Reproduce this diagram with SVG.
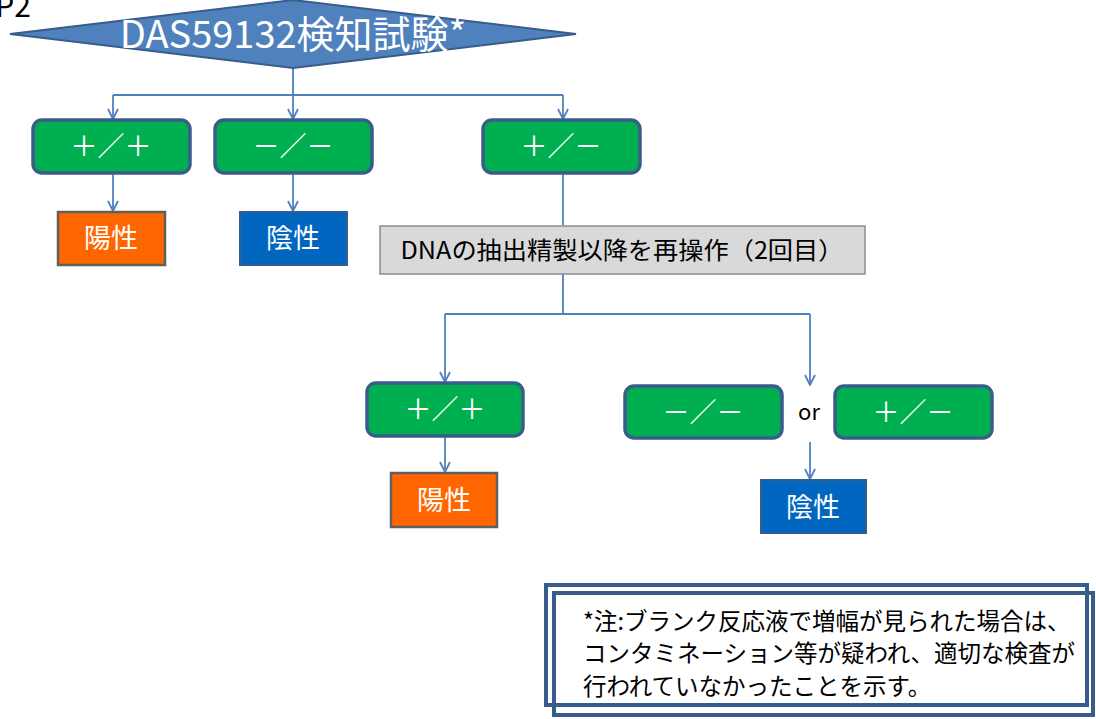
<svg xmlns="http://www.w3.org/2000/svg" width="1096" height="719" viewBox="0 0 1096 719">
<defs>
<marker id="arr" viewBox="0 0 12 12" refX="11" refY="6" markerWidth="12" markerHeight="12" markerUnits="userSpaceOnUse" orient="auto">
<path d="M1,1 L11,6 L1,11" fill="none" stroke="#4f81bd" stroke-width="1.8"/>
</marker>
<style>
.g{fill:#00b050;stroke:#385d8a;stroke-width:3.5}
.o{fill:#ff6600;stroke:#5f5f5f;stroke-width:2.5}
.b{fill:#0066c0;stroke:#385d8a;stroke-width:2}
.wt{font-family:"Noto Sans CJK JP","Noto Sans",sans-serif;fill:#fff;text-anchor:middle}
.bt{font-family:"Noto Sans CJK JP","Liberation Sans",sans-serif;fill:#000}
.c{fill:none;stroke:#4f81bd;stroke-width:1.8}
</style>
</defs>
<rect width="1096" height="719" fill="#fff"/>
<text x="31" y="17" class="bt" font-size="30" text-anchor="end" font-family="Liberation Sans, sans-serif">P2</text>

<g id="connectors">
<path class="c" d="M293,68 V95 M113,95 H563"/>
<path class="c" d="M113,95 V119" marker-end="url(#arr)"/>
<path class="c" d="M293,95 V119" marker-end="url(#arr)"/>
<path class="c" d="M563,95 V119" marker-end="url(#arr)"/>
<path class="c" d="M113,174 V211" marker-end="url(#arr)"/>
<path class="c" d="M293,174 V211" marker-end="url(#arr)"/>
<path class="c" d="M563,174 V225"/>
<path class="c" d="M563,274 V314 H810 M445,314 H563"/>
<path class="c" d="M445,314 V382" marker-end="url(#arr)"/>
<path class="c" d="M810,314 V385" marker-end="url(#arr)"/>
<path class="c" d="M445,437 V472" marker-end="url(#arr)"/>
<path class="c" d="M810,442 V479" marker-end="url(#arr)"/>
</g>

<g id="start">
<polygon points="10,34 293,0 576,34 293,68" fill="#4f81bd" stroke="#385d8a" stroke-width="2"/>
<text x="293" y="48" class="wt" font-size="38">DAS59132検知試験*</text>
</g>

<g id="r1a"><rect class="g" x="33" y="120" width="157" height="53" rx="9"/><text x="111" y="156" class="wt" font-size="27">＋／＋</text></g>
<g id="r1b"><rect class="g" x="215" y="120" width="157" height="53" rx="9"/><text x="293" y="156" class="wt" font-size="27">－／－</text></g>
<g id="r1c"><rect class="g" x="483" y="120" width="157" height="53" rx="9"/><text x="561" y="156" class="wt" font-size="27">＋／－</text></g>

<g id="pos1"><rect class="o" x="58" y="212" width="107" height="53"/><text x="111" y="248" class="wt" font-size="27">陽性</text></g>
<g id="neg1"><rect class="b" x="240" y="212" width="107" height="53"/><text x="293" y="248" class="wt" font-size="27">陰性</text></g>

<g id="redo"><rect x="380" y="226" width="485" height="48" fill="#d9d9d9" stroke="#8c8c8c" stroke-width="1.5"/><text x="622" y="259" class="bt" font-size="24" text-anchor="middle" textLength="443" lengthAdjust="spacingAndGlyphs">DNAの抽出精製以降を再操作（2回目）</text></g>

<g id="r2a"><rect class="g" x="367" y="383" width="156" height="53" rx="9"/><text x="445" y="419" class="wt" font-size="27">＋／＋</text></g>
<g id="r2b"><rect class="g" x="625" y="386" width="157" height="52" rx="9"/><text x="703" y="422" class="wt" font-size="27">－／－</text></g>
<text x="809" y="420" class="bt" font-size="22" text-anchor="middle" font-family="Liberation Sans, sans-serif">or</text>
<g id="r2c"><rect class="g" x="835" y="386" width="157" height="52" rx="9"/><text x="913" y="422" class="wt" font-size="27">＋／－</text></g>

<g id="pos2"><rect class="o" x="391" y="473" width="106" height="54"/><text x="444" y="510" class="wt" font-size="27">陽性</text></g>
<g id="neg2"><rect class="b" x="761" y="480" width="105" height="53"/><text x="813" y="517" class="wt" font-size="27">陰性</text></g>

<g id="note">
<rect x="546" y="585" width="541" height="120" fill="none" stroke="#385d8a" stroke-width="4"/>
<rect x="554" y="593" width="539" height="122" fill="none" stroke="#385d8a" stroke-width="4"/>
<text class="bt" font-size="23.5"><tspan x="583" y="630">*注:ブランク反応液で増幅が見られた場合は、</tspan><tspan x="583" y="662">コンタミネーション等が疑われ、適切な検査が</tspan><tspan x="583" y="695">行われていなかったことを示す。</tspan></text>
</g>
</svg>
